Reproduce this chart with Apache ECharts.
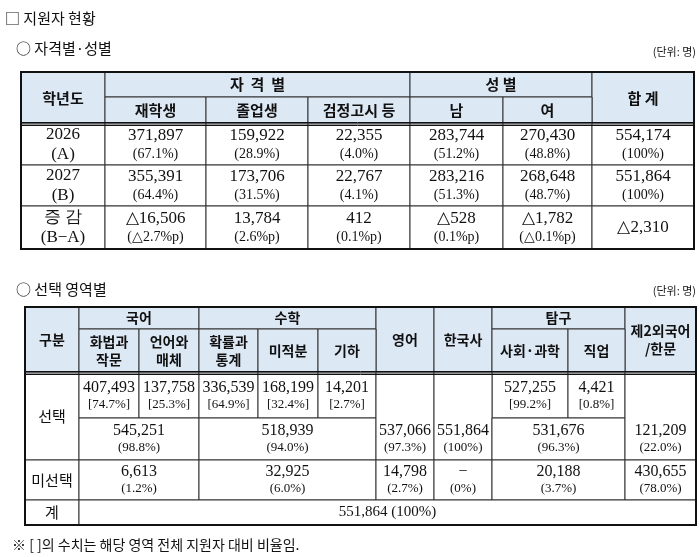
<!DOCTYPE html>
<html><head><meta charset="utf-8">
<script src="https://cdn.jsdelivr.net/npm/echarts@6/dist/echarts.min.js"></script>
<style>html,body{margin:0;background:#fff}#c{width:700px;height:557px}</style>
</head><body><div id="c"></div>
<script>
// ---- data ----
const years = [['2026','(A)'],['2027','(B)'],['증 감','(B−A)']];
const qualHeaders = ['재학생','졸업생','검정고시 등'];
const genderHeaders = ['남','여'];
const t1Values = [
  ['371,897','159,922','22,355','283,744','270,430','554,174'],
  ['355,391','173,706','22,767','283,216','268,648','551,864'],
  ['△16,506','13,784','412','△528','△1,782','△2,310']
];
const t1Shares = [
  ['(67.1%)','(28.9%)','(4.0%)','(51.2%)','(48.8%)','(100%)'],
  ['(64.4%)','(31.5%)','(4.1%)','(51.3%)','(48.7%)','(100%)'],
  ['(△2.7%p)','(2.6%p)','(0.1%p)','(0.1%p)','(△0.1%p)','']
];
const subjHeaders = ['화법과\n작문','언어와\n매체','확률과\n통계','미적분','기하'];
const subjValues = ['407,493','137,758','336,539','168,199','14,201'];
const subjShares = ['[74.7%]','[25.3%]','[64.9%]','[32.4%]','[2.7%]'];
const inqHeaders = ['사회·과학','직업'];
const inqValues = ['527,255','4,421'];
const inqShares = ['[99.2%]','[0.8%]'];
const selValues = ['545,251','518,939','537,066','551,864','531,676','121,209'];
const selShares = ['(98.8%)','(94.0%)','(97.3%)','(100%)','(96.3%)','(22.0%)'];
const unselValues = ['6,613','32,925','14,798','−','20,188','430,655'];
const unselShares = ['(1.2%)','(6.0%)','(2.7%)','(0%)','(3.7%)','(78.0%)'];
const grandTotal = '551,864 (100%)';

// ---- layout ----
const HF = '"Noto Sans CJK KR"', VF = '"Liberation Serif","Noto Sans CJK KR"';
const HBG = '#dde8f5';
const els = [];
function cell(x0,x1,y0,y1,text,o){
  o=o||{};
  els.push({type:'rect',shape:{x:x0,y:y0,width:x1-x0,height:y1-y0},
    style:{fill:o.bg||'#fff',stroke:'#333',lineWidth:1},z:1});
  if(text!==undefined && text!==''){
    const ty0=o.ty0!==undefined?o.ty0:y0, ty1=o.ty1!==undefined?o.ty1:y1;
    const st={text:text,align:'center',verticalAlign:'middle',
        font:(o.bold?'bold ':'')+(o.size||14)+'px '+(o.font||VF),
        fill:'#111',lineHeight:o.lh||17};
    if(o.rich) st.rich=o.rich;
    els.push({type:'text',x:(x0+x1)/2,y:(ty0+ty1)/2,z:3,style:st});
  }
}
function txt(x,y,s,size,align,font,bold){
  els.push({type:'text',x:x,y:y,z:3,style:{text:s,align:align||'left',verticalAlign:'middle',
    font:(bold?'bold ':'')+size+'px '+(font||HF),fill:'#111'}});
}

txt(5,18,'□ 지원자 현황',15);
txt(16,48,'○ 자격별·성별',15);
txt(696,52,'(단위: 명)',11,'right');
txt(16,289,'○ 선택 영역별',15);
txt(696,291,'(단위: 명)',11,'right');
txt(12,545,'※ [ ]의 수치는 해당 영역 전체 지원자 대비 비율임.',14);

// Table 1
const X1=[21,105,206,308,410,503,592,694];
const Y1=[72,97,124,165,206,249];
const hb={bg:HBG,bold:true,font:HF,size:15};
const rich1={v:{fontFamily:'Liberation Serif',fontSize:17,lineHeight:20},s:{fontFamily:'Liberation Serif',fontSize:14,lineHeight:18}};
cell(X1[0],X1[1],Y1[0],Y1[2],'학년도',hb);
cell(X1[1],X1[4],Y1[0],Y1[1],'자  격  별',hb);
cell(X1[4],X1[6],Y1[0],Y1[1],'성 별',hb);
cell(X1[6],X1[7],Y1[0],Y1[2],'합 계',hb);
qualHeaders.concat(genderHeaders).forEach((h,i)=>cell(X1[1+i],X1[2+i],Y1[1],Y1[2],h,hb));
years.forEach((y,r)=>{
  cell(X1[0],X1[1],Y1[2+r],Y1[3+r],'{v|'+y[0]+'}\n{v|'+y[1]+'}',{rich:rich1,size:17});
  t1Values[r].forEach((v,c)=>{
    const s=t1Shares[r][c];
    cell(X1[1+c],X1[2+c],Y1[2+r],Y1[3+r],s?'{v|'+v+'}\n{s|'+s+'}':'{v|'+v+'}',{rich:rich1,size:17});
  });
});

// Table 2
const X2=[25,79,139,199,258,318,376,434,492,568,625,696];
const Y2=[307,329,373,418,460,500,525];
const hb2={bg:HBG,bold:true,font:HF,size:14,lh:18};
cell(X2[0],X2[1],Y2[0],Y2[2],'구분',hb2);
cell(X2[1],X2[3],Y2[0],Y2[1],'국어',hb2);
cell(X2[3],X2[6],Y2[0],Y2[1],'수학',hb2);
cell(X2[6],X2[7],Y2[0],Y2[2],'영어',hb2);
cell(X2[7],X2[8],Y2[0],Y2[2],'한국사',hb2);
cell(X2[8],X2[10],Y2[0],Y2[1],'탐구',hb2);
cell(X2[10],X2[11],Y2[0],Y2[2],'제2외국어\n/한문',hb2);
subjHeaders.forEach((h,i)=>cell(X2[1+i],X2[2+i],Y2[1],Y2[2],h,hb2));
inqHeaders.forEach((h,i)=>cell(X2[8+i],X2[9+i],Y2[1],Y2[2],h,hb2));
const lb={font:HF,size:15};
cell(X2[0],X2[1],Y2[2],Y2[4],'선택',lb);
cell(X2[0],X2[1],Y2[4],Y2[5],'미선택',lb);
cell(X2[0],X2[1],Y2[5],Y2[6],'계',lb);
const rich2={v:{fontFamily:'Liberation Serif',fontSize:16,lineHeight:18},s:{fontFamily:'Liberation Serif',fontSize:13,lineHeight:16}};
const vo={rich:rich2,size:16};
subjValues.forEach((v,i)=>cell(X2[1+i],X2[2+i],Y2[2],Y2[3],'{v|'+v+'}\n{s|'+subjShares[i]+'}',vo));
inqValues.forEach((v,i)=>cell(X2[8+i],X2[9+i],Y2[2],Y2[3],'{v|'+v+'}\n{s|'+inqShares[i]+'}',vo));
const groups=[[1,3,false],[3,6,false],[6,7,true],[7,8,true],[8,10,false],[10,11,true]];
groups.forEach((g,i)=>{
  const y0=g[2]?Y2[2]:Y2[3];
  cell(X2[g[0]],X2[g[1]],y0,Y2[4],'{v|'+selValues[i]+'}\n{s|'+selShares[i]+'}',Object.assign({ty0:Y2[3]},vo));
  cell(X2[g[0]],X2[g[1]],Y2[4],Y2[5],'{v|'+unselValues[i]+'}\n{s|'+unselShares[i]+'}',vo);
});
cell(X2[1],X2[11],Y2[5],Y2[6],grandTotal,{size:15});

function hline(x0,x1,y,w){els.push({type:'line',shape:{x1:x0,y1:y,x2:x1,y2:y},style:{stroke:'#111',lineWidth:w},z:5});}
function box(x0,x1,y0,y1){els.push({type:'rect',shape:{x:x0,y:y0,width:x1-x0,height:y1-y0},style:{fill:null,stroke:'#111',lineWidth:2},z:5});}
box(X1[0],X1[7],Y1[0],Y1[5]); hline(X1[0],X1[7],Y1[2]-1.5,1); hline(X1[0],X1[7],Y1[2]+1.5,1);
box(X2[0],X2[11],Y2[0],Y2[6]); hline(X2[0],X2[11],Y2[2]-1.5,1); hline(X2[0],X2[11],Y2[2]+1.5,1);

const chart=echarts.init(document.getElementById('c'));
chart.setOption({animation:false,backgroundColor:'#fff',graphic:{elements:els}});
</script></body></html>
